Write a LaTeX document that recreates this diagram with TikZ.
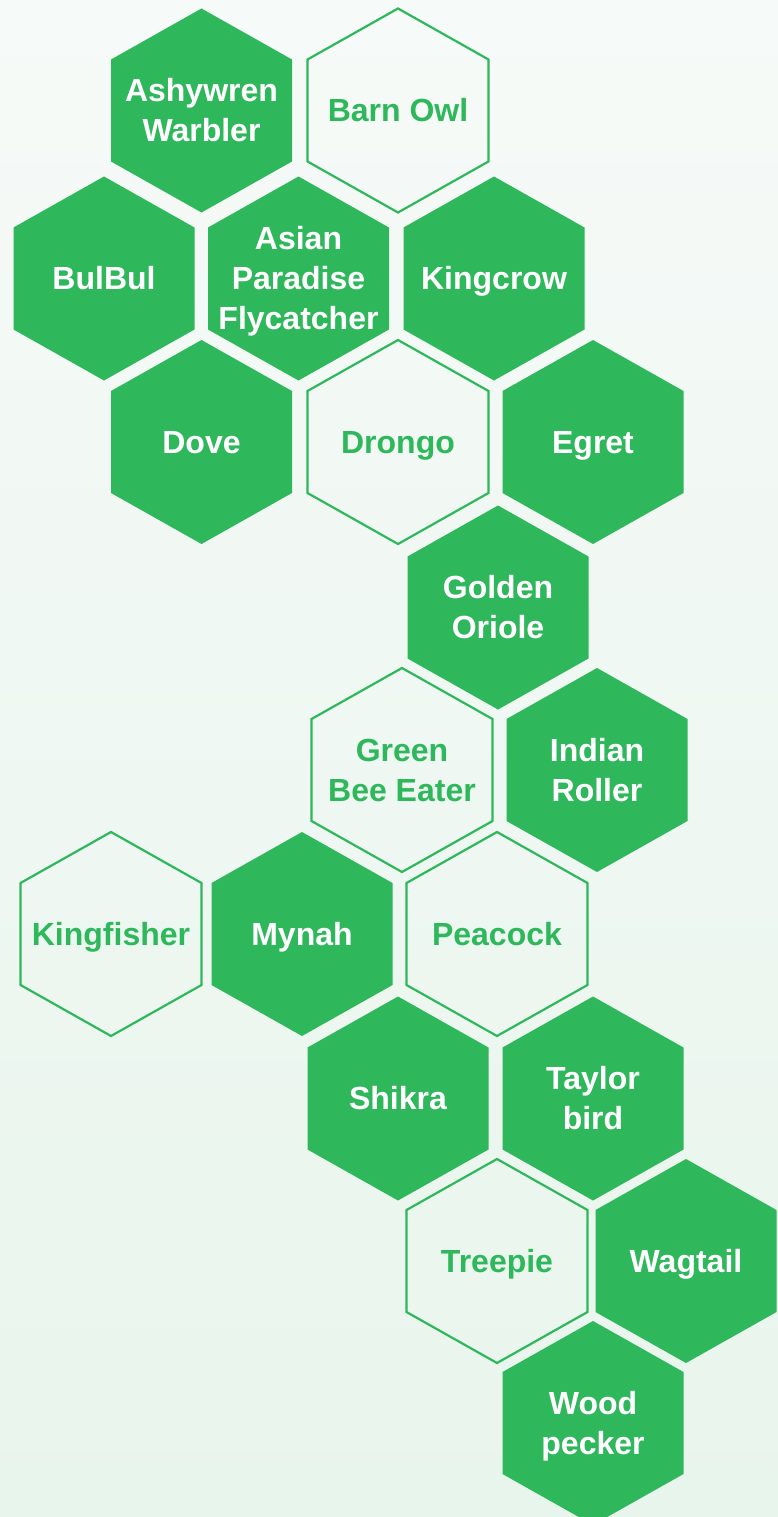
\documentclass[tikz,border=0pt]{standalone}
\usepackage{fontspec}
\setmainfont{Liberation Sans}
\definecolor{hexgreen}{HTML}{2EB85B}
\definecolor{bgtop}{HTML}{F6FAF8}
\definecolor{bgbot}{HTML}{E8F5EC}
\tikzset{
  fillhex/.style={fill=hexgreen},
  linehex/.style={draw=hexgreen, line width=2.2pt, line join=miter},
  fillhex text/.style={text=white, inner sep=0pt, font=\fontsize{32}{40}\bfseries\selectfont},
  linehex text/.style={text=hexgreen, inner sep=0pt, font=\fontsize{32}{40}\bfseries\selectfont},
}
\newcommand\hexcell[6]{%
  \path[#4] ({#2},{#3-102}) -- ({#2+90.5},{#3-51}) -- ({#2+90.5},{#3+51}) -- ({#2},{#3+102}) -- ({#2-90.5},{#3+51}) -- ({#2-90.5},{#3-51}) -- cycle;
  \node[#4 text, anchor=base] (#1) at ({#2},{#3+11-20*(#5-1)}) {\vtop{\baselineskip=40pt\halign{\hfil##\hfil\cr#6\cr}}};%
}
\begin{document}
\begin{tikzpicture}[x=1pt,y=-1pt]
\useasboundingbox (0,0) rectangle (778,1517);
\clip (0,0) rectangle (778,1517);
\shade[top color=bgtop, bottom color=bgbot] (0,0) rectangle (778,1517);
% row 1
\hexcell{ashywren}{201.5}{110.5}{fillhex}{2}{Ashywren\cr Warbler}
\hexcell{barnowl}{398}{110.5}{linehex}{1}{Barn Owl}
% row 2
\hexcell{bulbul}{104}{278.5}{fillhex}{1}{BulBul}
\hexcell{asian}{298.5}{278.5}{fillhex}{3}{Asian\cr Paradise\cr Flycatcher}
\hexcell{kingcrow}{494}{278.5}{fillhex}{1}{Kingcrow}
% row 3
\hexcell{dove}{201.5}{442}{fillhex}{1}{Dove}
\hexcell{drongo}{398}{442}{linehex}{1}{Drongo}
\hexcell{egret}{593}{442}{fillhex}{1}{Egret}
% row 4
\hexcell{oriole}{498}{607.5}{fillhex}{2}{Golden\cr Oriole}
% row 5
\hexcell{beeeater}{402}{770}{linehex}{2}{Green\cr Bee Eater}
\hexcell{roller}{597}{770}{fillhex}{2}{Indian\cr Roller}
% row 6
\hexcell{kingfisher}{111}{934}{linehex}{1}{Kingfisher}
\hexcell{mynah}{302}{934}{fillhex}{1}{Mynah}
\hexcell{peacock}{497}{934}{linehex}{1}{Peacock}
% row 7
\hexcell{shikra}{398}{1098.5}{fillhex}{1}{Shikra}
\hexcell{taylor}{593}{1098.5}{fillhex}{2}{Taylor\cr bird}
% row 8
\hexcell{treepie}{497}{1261}{linehex}{1}{Treepie}
\hexcell{wagtail}{686}{1261}{fillhex}{1}{Wagtail}
% row 9
\hexcell{woodpecker}{593}{1423}{fillhex}{2}{Wood\cr pecker}
\end{tikzpicture}
\end{document}
